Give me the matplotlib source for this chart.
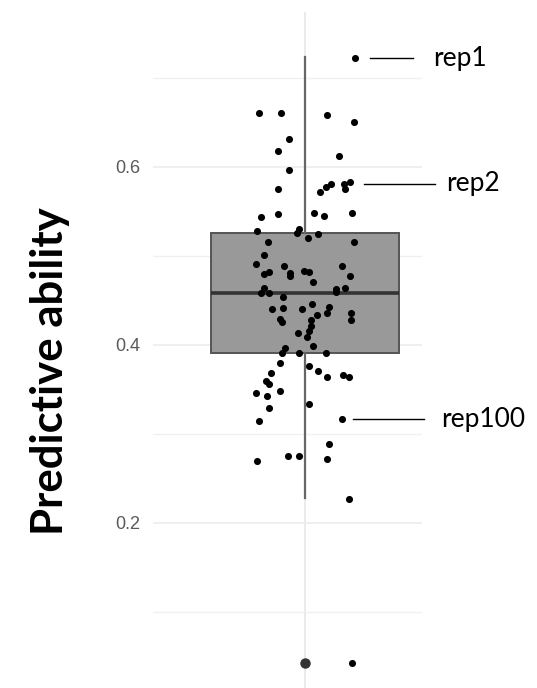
import matplotlib
matplotlib.use("Agg")
import matplotlib.pyplot as plt
from matplotlib.ticker import MultipleLocator

# ---- data ----
pred_values = [0.722, 0.660, 0.660, 0.658, 0.650, 0.631, 0.618, 0.612, 0.596, 0.575,
               0.572, 0.577, 0.580, 0.581, 0.583, 0.575, 0.5435, 0.5465, 0.548, 0.545,
               0.548, 0.5275, 0.530, 0.525, 0.520, 0.524, 0.5154, 0.515, 0.5005, 0.4907,
               0.489, 0.489, 0.479, 0.482, 0.481, 0.477, 0.483, 0.482, 0.477, 0.4705,
               0.4634, 0.4585, 0.4585, 0.4627, 0.4634, 0.4593, 0.454, 0.440, 0.441, 0.440,
               0.4455, 0.4338, 0.436, 0.442, 0.436, 0.428, 0.429, 0.426, 0.428, 0.421,
               0.413, 0.409, 0.415, 0.399, 0.396, 0.391, 0.391, 0.391, 0.379, 0.368,
               0.3765, 0.371, 0.3635, 0.3664, 0.3635, 0.359, 0.3556, 0.346, 0.342, 0.348,
               0.3294, 0.3335, 0.3148, 0.3163, 0.2886, 0.2699, 0.2751, 0.2751, 0.2714, 0.2268,
               0.043]
jitter = [0.199, -0.183, -0.096, 0.088, 0.194, -0.065, -0.108, 0.136, -0.065, -0.108,
          0.061, 0.083, 0.104, 0.157, 0.178, 0.160, -0.177, -0.108, 0.035, 0.075,
          0.186, -0.190, -0.025, -0.032, 0.012, 0.053, -0.149, 0.194, -0.165, -0.195,
          -0.084, 0.146, -0.165, -0.144, -0.059, -0.059, -0.004, 0.017, 0.181, 0.033,
          -0.165, -0.176, -0.144, 0.122, 0.160, 0.122, -0.089, -0.130, -0.089, -0.013,
          0.028, 0.047, 0.088, 0.096, 0.185, 0.185, -0.101, -0.093, 0.024, 0.024,
          -0.027, 0.007, 0.017, 0.033, -0.080, -0.093, -0.024, 0.083, -0.101, -0.137,
          0.017, 0.053, 0.088, 0.153, 0.177, -0.154, -0.144, -0.195, -0.150, -0.101,
          -0.142, 0.017, -0.185, 0.146, 0.096, -0.191, -0.067, -0.024, 0.088, 0.177,
          0.187]

box_stats = dict(med=0.458, q1=0.391, q3=0.525, whislo=0.228, whishi=0.723, fliers=[0.043])

rep_labels = ["rep1", "rep2", "rep100"]
rep_values = [0.722, 0.581, 0.3163]
rep_line_start = [1.259, 1.235, 1.191]
rep_line_end = [1.431, 1.519, 1.475]
rep_text_x = [1.511, 1.562, 1.542]

y_ticks = [0.2, 0.4, 0.6]
y_label = "Predictive ability"

# ---- figure ----
W, H = 537, 688
fig = plt.figure(figsize=(W / 100, H / 100), dpi=100)
ax = fig.add_axes([152.7 / W, 0, 269 / W, (H - 12) / H])

ax.set_xlim(0.3925, 1.4655)
ax.set_ylim(0.0146, 0.7737)

for s in ax.spines.values():
    s.set_visible(False)

ax.set_yticks(y_ticks)
ax.set_yticklabels([f"{t:.1f}" for t in y_ticks], family=["Liberation Sans", "DejaVu Sans"])
ax.yaxis.set_minor_locator(MultipleLocator(0.1))
ax.set_xticks([1])
ax.tick_params(axis="y", which="both", length=0, pad=9, labelsize=13, labelcolor="#5a5a5a")
ax.tick_params(axis="x", length=0, labelbottom=False)
ax.grid(True, which="major", axis="both", color="#ebebeb", lw=1.1, zorder=0)
ax.grid(True, which="minor", axis="y", color="#f0f0f0", lw=1.0, zorder=0)
ax.set_axisbelow(True)

ax.bxp([box_stats], positions=[1], widths=0.75, patch_artist=True, showcaps=False,
       boxprops=dict(facecolor="#999999", edgecolor="#555555", lw=1.4),
       medianprops=dict(color="#333333", lw=2.6),
       whiskerprops=dict(color="#666666", lw=1.6),
       flierprops=dict(marker="o", markerfacecolor="#333333", markeredgecolor="#333333",
                       markersize=6.5),
       zorder=2)

ax.scatter([1 + j for j in jitter], pred_values, s=26, color="black", lw=0, zorder=3)

for lab, v, x0, x1, xt in zip(rep_labels, rep_values, rep_line_start, rep_line_end, rep_text_x):
    ax.plot([x0, x1], [v, v], color="black", lw=1.0, clip_on=False, zorder=4)
    ax.text(xt, v, lab, ha="left", va="center", fontsize=19,
            family=["Lato", "DejaVu Sans"], color="black", clip_on=False)

fig.text(50 / W, 1 - 371 / H, y_label, rotation=90, ha="center", va="center",
         fontsize=31.5, fontweight="bold", family=["Lato", "DejaVu Sans"], color="black")

fig.savefig("out.png", dpi=100)
